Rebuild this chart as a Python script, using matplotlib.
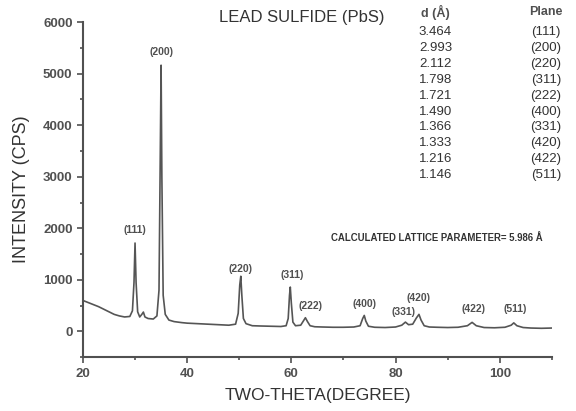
import matplotlib
matplotlib.use("Agg")
import matplotlib.pyplot as plt
from matplotlib.ticker import MultipleLocator

plt.rcParams['font.family'] = ['Liberation Sans', 'DejaVu Sans']

# XRD pattern
two_theta = [20.0, 21.0, 22.0, 23.0, 24.0, 25.0, 26.0, 27.0, 28.0, 29.0,
             29.5, 29.8, 30.0, 30.2, 30.5, 30.9, 31.3, 31.6, 31.9, 32.5,
             33.5, 34.2, 34.6, 34.85, 35.0, 35.15, 35.4, 35.8, 36.5, 37.5,
             39.0, 40.0, 42.0, 44.0, 46.0, 48.0, 49.3, 49.8, 50.1, 50.3,
             50.5, 50.8, 51.3, 52.5, 54.0, 56.0, 58.0, 59.0, 59.4, 59.65,
             59.8, 60.0, 60.3, 60.8, 61.8, 62.3, 62.7, 63.1, 63.6, 64.5,
             66.0, 68.0, 70.0, 72.0, 73.2, 73.7, 74.0, 74.3, 74.8, 76.0,
             78.0, 80.0, 81.2, 81.9, 82.5, 83.3, 84.0, 84.5, 84.9, 85.5,
             86.5, 88.0, 90.0, 92.0, 93.8, 94.7, 95.5, 97.0, 99.0, 101.0,
             102.2, 102.7, 103.3, 104.5, 106.0, 108.0, 110.0]
intensity = [600, 560, 520, 480, 430, 380, 330, 300, 280, 290,
             400, 950, 1715, 950, 380, 280, 330, 375, 280, 250,
             240, 300, 800, 3500, 5165, 3000, 700, 330, 220, 190,
             170, 160, 150, 140, 130, 120, 140, 350, 900, 1070,
             700, 250, 150, 110, 105, 100, 95, 110, 250, 700,
             860, 550, 180, 110, 120, 200, 265, 190, 110, 90,
             85, 80, 80, 85, 110, 250, 310, 200, 100, 80,
             75, 85, 120, 180, 130, 140, 260, 330, 220, 110,
             85, 80, 75, 80, 110, 175, 110, 75, 70, 80,
             120, 165, 110, 75, 65, 60, 65]

# peak labels (position of the text)
peak_labels = ["(111)", "(200)", "(220)", "(311)", "(222)", "(400)",
               "(331)", "(420)", "(422)", "(511)"]
label_x = [30.0, 35.0, 50.2, 60.2, 63.6, 74.0, 81.5, 84.4, 95.0, 103.0]
label_y = [1960, 5420, 1220, 1090, 485, 525, 370, 640, 425, 425]

# d-spacing table
d_spacing = ["3.464", "2.993", "2.112", "1.798", "1.721", "1.490",
             "1.366", "1.333", "1.216", "1.146"]
planes = ["(111)", "(200)", "(220)", "(311)", "(222)", "(400)",
          "(331)", "(420)", "(422)", "(511)"]

grey = "#505050"
fig = plt.figure(figsize=(5.76, 4.11), dpi=100)
ax = fig.add_axes([0.144, 0.131, 0.814, 0.815])

ax.plot(two_theta, intensity, color="#555555", lw=1.2)

ax.set_xlim(20, 110)
ax.set_ylim(-500, 6000)
ax.xaxis.set_major_locator(MultipleLocator(20))
ax.xaxis.set_minor_locator(MultipleLocator(10))
ax.yaxis.set_major_locator(MultipleLocator(1000))
ax.yaxis.set_minor_locator(MultipleLocator(500))
ax.spines["top"].set_visible(False)
ax.spines["right"].set_visible(False)
for s in ["left", "bottom"]:
    ax.spines[s].set_color(grey)
    ax.spines[s].set_linewidth(1.5)
ax.tick_params(which="both", colors=grey, width=1.2)
ax.tick_params(which="major", length=4, labelsize=9.5)
ax.tick_params(which="minor", length=2.5)
for lab in ax.get_xticklabels() + ax.get_yticklabels():
    lab.set_fontweight("bold")

ax.set_xlabel("TWO-THETA(DEGREE)", fontsize=12.5, color="#333333", labelpad=6)
ax.set_ylabel("INTENSITY (CPS)", fontsize=13, color="#333333", labelpad=9)

for lab, x, y in zip(peak_labels, label_x, label_y):
    ax.text(x, y, lab, fontsize=7.5, fontweight="bold", color=grey,
            ha="center", va="center")

fig.text(0.524, 0.957, "LEAD SULFIDE (PbS)", fontsize=12, color="#333333",
         ha="center", va="center")
fig.text(0.756, 0.970, "d (Å)", fontsize=9, fontweight="bold", color=grey,
         ha="center", va="center")
fig.text(0.948, 0.970, "Plane", fontsize=9, fontweight="bold", color=grey,
         ha="center", va="center")
for i, (d, p) in enumerate(zip(d_spacing, planes)):
    yy = 0.922 - i * 0.0387
    fig.text(0.756, yy, d, fontsize=9.5, color="#333333", ha="center", va="center")
    fig.text(0.948, yy, p, fontsize=9.5, color="#333333", ha="center", va="center")

fig.text(0.758, 0.421, "CALCULATED LATTICE PARAMETER= 5.986 Å", fontsize=6.9,
         fontweight="bold", color="#333333", ha="center", va="center")

fig.savefig("out.png", dpi=100)
